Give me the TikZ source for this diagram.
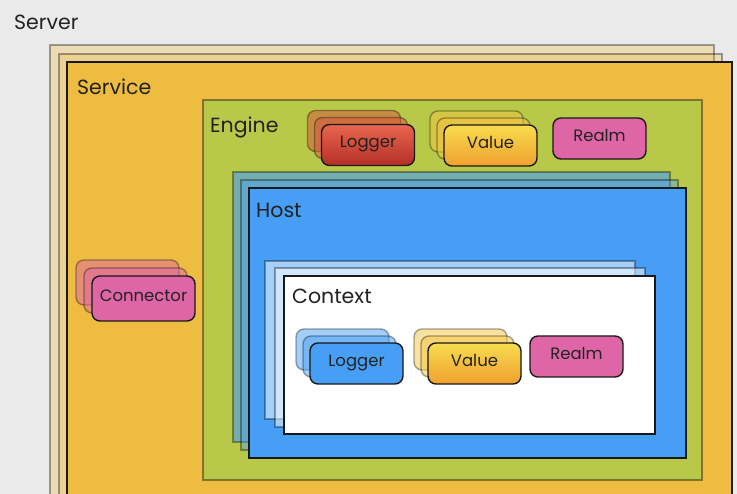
\documentclass[tikz,border=0pt]{standalone}
\usepackage{fontspec}
\setmainfont{Poppins}
\usetikzlibrary{positioning}

\definecolor{bggray}{HTML}{EAEAEA}
\definecolor{servcol}{HTML}{EEBC40}
\definecolor{engcol}{HTML}{B8C94A}
\definecolor{hostcol}{HTML}{479FF5}
\definecolor{pinkcol}{HTML}{DE66A6}
\definecolor{redtop}{HTML}{E8664E}
\definecolor{redbot}{HTML}{B52F27}
\definecolor{valtop}{HTML}{F7DC4E}
\definecolor{valbot}{HTML}{F0A030}
\definecolor{txtcol}{HTML}{222222}

\tikzset{
  frame/.style={draw=black!90, line width=1.4pt},
  ghost/.style={draw=black, draw opacity=0.35, line width=1.4pt, fill opacity=0.5},
  biglbl/.style={anchor=base west, inner sep=0pt, text=txtcol, font=\fontsize{20.5}{20}\selectfont},
  compbox/.style={frame, rounded corners=8pt, minimum width=93pt, minimum height=41pt,
    inner sep=0pt, text height=12pt, text depth=6pt, text=txtcol, font=\fontsize{16.5}{16}\selectfont},
  ghostbox/.style={ghost, rounded corners=8pt, minimum width=93pt, minimum height=41pt, inner sep=0pt}
}

\begin{document}
\begin{tikzpicture}[x=1pt,y=-1pt]
      \fill[bggray] (0,0) rectangle (737,494);
      \useasboundingbox (0,0) rectangle (737,494);
      \clip (0,0) rectangle (737,494);
      % Server
      \node[biglbl] (server) at (14,30) {Server};
      % Service
      \draw[ghost, fill=servcol, fill opacity=0.3] (50,45) rectangle (714,520);
      \draw[ghost, fill=servcol, fill opacity=0.3] (59,54) rectangle (722,520);
      \draw[frame, fill=servcol] (67,62) rectangle (732,520);
      \node[biglbl] (service) at (77,95) {Service};
      \foreach \d in {16,8}{
        \node[ghostbox, fill=pinkcol, minimum width=103pt, minimum height=45pt] (conn\d) at (143.5-\d,298.5-\d) {};
      }
      \node[compbox, fill=pinkcol, minimum width=103pt, minimum height=45pt] (conn) at (143.5,298.5) {Connector};
      % Engine
      \draw[frame, draw opacity=0.45, fill=engcol] (203,100) rectangle (702,480);
      \node[biglbl] (engine) at (210,133) {Engine};
      \foreach \d in {14,7}{
        \node[ghostbox, fill=redtop!60!redbot] (englog\d) at (368-\d,145-\d) {};
        \node[ghostbox, fill=valtop!60!valbot] (engval\d) at (490.5-\d,145.5-\d) {};
      }
      \node[compbox, top color=redtop, bottom color=redbot] (englog) at (368,145) {Logger};
      \node[compbox, top color=valtop, bottom color=valbot] (engval) at (490.5,145.5) {Value};
      \node[compbox, fill=pinkcol] (engrealm) at (599.5,138.5) {Realm};
      % Host
      \draw[ghost, fill=hostcol, fill opacity=0.6] (233,172) rectangle (670,442);
      \draw[ghost, fill=hostcol, fill opacity=0.4] (241,180) rectangle (678,450);
      \draw[frame, fill=hostcol] (249,188) rectangle (686,458);
      \node[biglbl] (host) at (256,218) {Host};
      % Context
      \draw[ghost, fill=white] (265,261) rectangle (635,419);
      \draw[ghost, fill=white] (275,268) rectangle (645,427);
      \draw[frame, fill=white] (284,276) rectangle (655,434);
      \node[biglbl] (context) at (292,304) {Context};
      \foreach \d in {14,7}{
        \node[ghostbox, fill=hostcol] (ctxlog\d) at (356.5-\d,363.5-\d) {};
        \node[ghostbox, fill=valtop!60!valbot] (ctxval\d) at (474.5-\d,363.5-\d) {};
      }
      \node[compbox, fill=hostcol] (ctxlog) at (356.5,363.5) {Logger};
      \node[compbox, top color=valtop, bottom color=valbot] (ctxval) at (474.5,363.5) {Value};
      \node[compbox, fill=pinkcol] (ctxrealm) at (576.5,356.5) {Realm};
\end{tikzpicture}
\end{document}
